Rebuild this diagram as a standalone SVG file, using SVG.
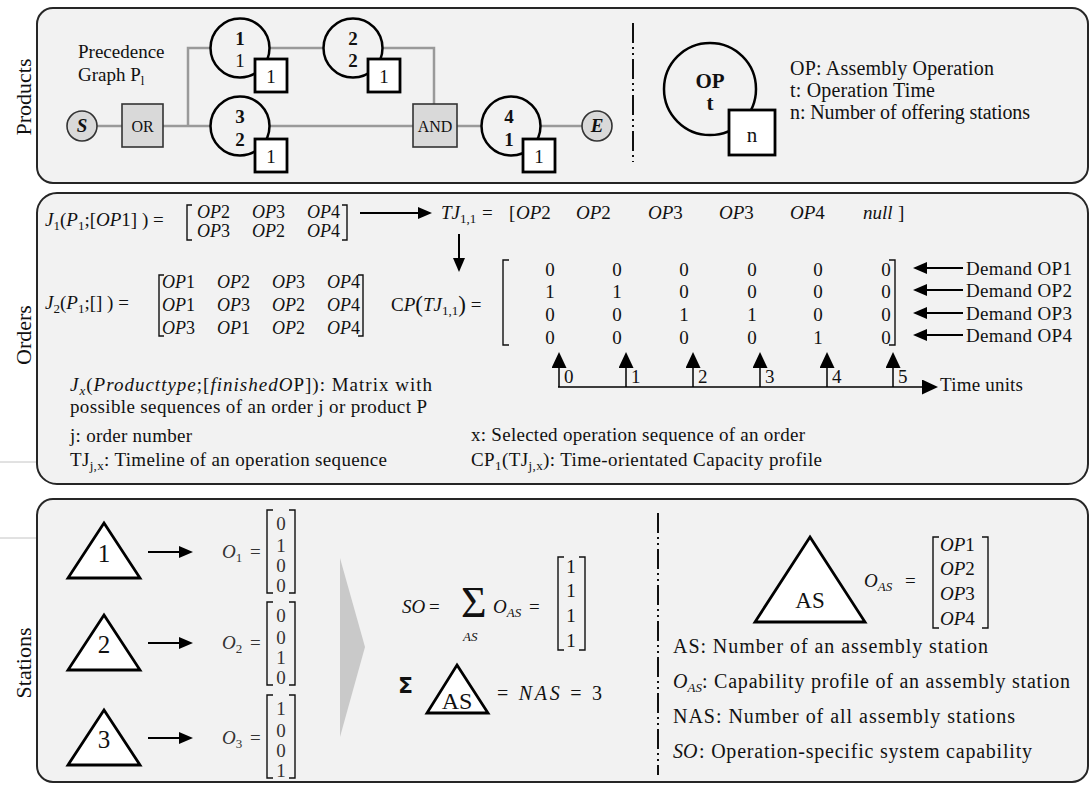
<svg xmlns="http://www.w3.org/2000/svg" width="1091" height="787" viewBox="0 0 1091 787" font-size="19">
<defs>
<style>
text{font-family:"Liberation Serif","Times New Roman",serif;fill:#111}
.i{font-style:italic}
.b{font-weight:bold}
.u{font-style:normal}
.c{text-anchor:middle}
.panel{fill:#f2f2f2;stroke:#262626;stroke-width:2}
.lbl{font-size:22px;text-anchor:middle}
.edge{fill:none;stroke:#9a9a9a;stroke-width:2.5}
.opc{fill:#f2f2f2;stroke:#000;stroke-width:2.5}
.box{fill:#fff;stroke:#000;stroke-width:2.8}
.gate{fill:#d9d9d9;stroke:#333;stroke-width:1.6}
.arr{fill:none;stroke:#000;stroke-width:2}
.arrT{fill:none;stroke:#000;stroke-width:1.5}
.br{fill:none;stroke:#111;stroke-width:1.4}
.dd{fill:none;stroke:#111;stroke-width:2;stroke-dasharray:20 4 2 4 2 4}
.tri{fill:#fff;stroke:#000;stroke-width:2.8}
.g{fill:#333}
.thin{stroke:#c4c4c4;stroke-width:1}
.sans{font-family:"DejaVu Sans",sans-serif;font-weight:bold}
</style>
<marker id="ah" viewBox="0 0 14 12" refX="10" refY="6" markerWidth="14" markerHeight="12" orient="auto" markerUnits="userSpaceOnUse"><path d="M0,0 L14,6 L0,12 Z" fill="#000"/></marker>
<marker id="ahL" viewBox="0 0 16 15" refX="12" refY="7.5" markerWidth="16" markerHeight="15" orient="auto" markerUnits="userSpaceOnUse"><path d="M0,0 L16,7.5 L0,15 Z" fill="#000"/></marker>
</defs>
<rect width="1091" height="787" fill="#fff"/>
<line class="thin" x1="0" y1="462" x2="37" y2="462"/>
<line class="thin" x1="0" y1="538" x2="37" y2="538"/>

<!-- Panels -->
<g id="panel-products">
<rect class="panel" x="37" y="8" width="1051" height="175" rx="16"/>
<text class="lbl" x="31" y="97" transform="rotate(-90 31 97)">Products</text>
</g>
<g id="panel-orders">
<rect class="panel" x="37" y="193" width="1051" height="291" rx="20"/>
<text class="lbl" x="31" y="335" transform="rotate(-90 31 335)">Orders</text>
</g>
<g id="panel-stations">
<rect class="panel" x="37" y="499" width="1051" height="283" rx="16"/>
<text class="lbl" x="31" y="663" transform="rotate(-90 31 663)">Stations</text>
</g>

<!-- Connectors -->
<g id="connectors">
<path class="edge" d="M97,126 H122"/>
<path class="edge" d="M163,126 H210"/>
<path class="edge" d="M188,126 V48 H211"/>
<path class="edge" d="M269,48 H324"/>
<path class="edge" d="M382,48 H434 V104"/>
<path class="edge" d="M269,126 H413"/>
<path class="edge" d="M457,126 H482"/>
<path class="edge" d="M540,126 H582"/>
<line class="arr" x1="360" y1="213" x2="428" y2="213" marker-end="url(#ah)"/>
<line class="arr" x1="459" y1="234" x2="459" y2="268" marker-end="url(#ah)"/>
<line class="arr" x1="963" y1="268" x2="917" y2="268" marker-end="url(#ah)"/>
<line class="arr" x1="963" y1="290" x2="917" y2="290" marker-end="url(#ah)"/>
<line class="arr" x1="963" y1="313" x2="917" y2="313" marker-end="url(#ah)"/>
<line class="arr" x1="963" y1="335" x2="917" y2="335" marker-end="url(#ah)"/>
<line class="arrT" x1="559" y1="387" x2="559" y2="356" marker-end="url(#ahL)"/>
<line class="arrT" x1="626" y1="387" x2="626" y2="356" marker-end="url(#ahL)"/>
<line class="arrT" x1="693" y1="387" x2="693" y2="356" marker-end="url(#ahL)"/>
<line class="arrT" x1="760" y1="387" x2="760" y2="356" marker-end="url(#ahL)"/>
<line class="arrT" x1="827" y1="387" x2="827" y2="356" marker-end="url(#ahL)"/>
<line class="arrT" x1="893" y1="387" x2="893" y2="356" marker-end="url(#ahL)"/>
<line class="arrT" x1="558" y1="387" x2="934" y2="387" marker-end="url(#ahL)"/>
<line class="arr" x1="148" y1="552" x2="189" y2="552" marker-end="url(#ah)"/>
<line class="arr" x1="148" y1="643" x2="189" y2="643" marker-end="url(#ah)"/>
<line class="arr" x1="148" y1="738" x2="189" y2="738" marker-end="url(#ah)"/>
<line class="dd" x1="633" y1="23" x2="633" y2="162"/>
<line class="dd" x1="658" y1="513" x2="658" y2="775"/>
</g>

<!-- Products nodes -->
<g id="title-precedence">
<text x="78" y="58">Precedence</text>
<text x="78" y="81">Graph P<tspan font-size="13" dy="4">l</tspan></text>
</g>
<g id="node-S">
<circle cx="82" cy="126" r="15" class="gate"/>
<text class="c b i" x="82" y="132">S</text>
</g>
<g id="node-OR">
<rect class="gate" x="122" y="104" width="41" height="43"/>
<text class="c" x="142.5" y="132" font-size="16">OR</text>
</g>
<g id="node-op1">
<circle class="opc" cx="240" cy="48" r="29.5"/>
<rect class="box" x="255" y="59" width="32" height="33"/>
<text class="c b" x="240" y="45">1</text>
<text class="c" x="240" y="67">1</text>
<text class="c" x="271" y="83">1</text>
</g>
<g id="node-op2">
<circle class="opc" cx="353" cy="48" r="29.5"/>
<rect class="box" x="368" y="59" width="32" height="33"/>
<text class="c b" x="353" y="45">2</text>
<text class="c b" x="353" y="67">2</text>
<text class="c" x="384" y="83">1</text>
</g>
<g id="node-op3">
<circle class="opc" cx="240" cy="126" r="29.5"/>
<rect class="box" x="255" y="139" width="32" height="33"/>
<text class="c b" x="240" y="123">3</text>
<text class="c b" x="240" y="146">2</text>
<text class="c" x="271" y="163">1</text>
</g>
<g id="node-AND">
<rect class="gate" x="413" y="104" width="44" height="43"/>
<text class="c" x="435" y="132" font-size="16">AND</text>
</g>
<g id="node-op4">
<circle class="opc" cx="511" cy="126" r="29.5"/>
<rect class="box" x="523" y="139" width="32" height="33"/>
<text class="c b" x="509" y="123">4</text>
<text class="c b" x="509" y="146">1</text>
<text class="c" x="539" y="163">1</text>
</g>
<g id="node-E">
<circle cx="597" cy="126" r="15" class="gate"/>
<text class="c b i" x="597" y="132">E</text>
</g>
<g id="legend-op">
<circle class="opc" cx="710" cy="89" r="46"/>
<rect class="box" x="729" y="110" width="46" height="45"/>
<text class="c b" x="710" y="88" font-size="21">OP</text>
<text class="c b" x="710" y="110" font-size="21">t</text>
<text class="c" x="752" y="142" font-size="21">n</text>
<text x="790" y="75" font-size="20" textLength="204">OP: Assembly Operation</text>
<text x="790" y="97" font-size="20" textLength="145">t: Operation Time</text>
<text x="790" y="119" font-size="20" textLength="240">n: Number of offering stations</text>
</g>

<!-- Orders -->
<g id="formula-J1">
<text class="i" x="45" y="226">J<tspan class="u" font-size="13" dy="4">1</tspan><tspan class="u" dy="-4">(</tspan>P<tspan class="u" font-size="13" dy="4">1</tspan><tspan class="u" dy="-4">;[</tspan>OP<tspan class="u">1</tspan><tspan class="u">] ) =</tspan></text>
<path class="br" d="M192,205 H187 V240 H192 M342,205 H347 V240 H342"/>
<text class="i" font-size="18" y="218"><tspan x="197">OP</tspan><tspan class="u">2</tspan><tspan x="252">OP</tspan><tspan class="u">3</tspan><tspan x="307">OP</tspan><tspan class="u">4</tspan></text>
<text class="i" font-size="18" y="237"><tspan x="197">OP</tspan><tspan class="u">3</tspan><tspan x="252">OP</tspan><tspan class="u">2</tspan><tspan x="307">OP</tspan><tspan class="u">4</tspan></text>
</g>
<g id="formula-TJ">
<text class="i" x="441" y="219">TJ<tspan class="u" font-size="13" dy="4">1,1</tspan><tspan class="u" dy="-4" x="482">=</tspan></text>
<text class="i" y="219"><tspan class="u" x="509">[</tspan><tspan x="516">OP</tspan><tspan class="u">2</tspan><tspan x="576">OP</tspan><tspan class="u">2</tspan><tspan x="648">OP</tspan><tspan class="u">3</tspan><tspan x="719">OP</tspan><tspan class="u">3</tspan><tspan x="790">OP</tspan><tspan class="u">4</tspan><tspan x="863">null</tspan><tspan class="u" x="898">]</tspan></text>
</g>
<g id="formula-J2">
<text class="i" x="45" y="309">J<tspan class="u" font-size="13" dy="4">2</tspan><tspan class="u" dy="-4">(</tspan>P<tspan class="u" font-size="13" dy="4">1</tspan><tspan class="u" dy="-4">;[] ) =</tspan></text>
<path class="br" d="M164,275 H159 V336 H164 M358,275 H363 V336 H358"/>
<text class="i" font-size="18" y="288"><tspan x="162">OP</tspan><tspan class="u">1</tspan><tspan x="217">OP</tspan><tspan class="u">2</tspan><tspan x="272">OP</tspan><tspan class="u">3</tspan><tspan x="327">OP</tspan><tspan class="u">4</tspan></text>
<text class="i" font-size="18" y="311"><tspan x="162">OP</tspan><tspan class="u">1</tspan><tspan x="217">OP</tspan><tspan class="u">3</tspan><tspan x="272">OP</tspan><tspan class="u">2</tspan><tspan x="327">OP</tspan><tspan class="u">4</tspan></text>
<text class="i" font-size="18" y="334"><tspan x="162">OP</tspan><tspan class="u">3</tspan><tspan x="217">OP</tspan><tspan class="u">1</tspan><tspan x="272">OP</tspan><tspan class="u">2</tspan><tspan x="327">OP</tspan><tspan class="u">4</tspan></text>
</g>
<g id="formula-CP">
<text x="391" y="311">C<tspan class="i">P</tspan><tspan font-size="23" dy="1">(</tspan><tspan class="i" dy="-1">TJ</tspan><tspan font-size="13" dy="4">1,1</tspan><tspan font-size="23" dy="-3">)</tspan><tspan dy="-1"> =</tspan></text>
<path class="br" d="M509,260 H503 V345 H509 M889,260 H895 V345 H889"/>
<text class="c" y="276"><tspan x="550">0</tspan><tspan x="617">0</tspan><tspan x="684">0</tspan><tspan x="752">0</tspan><tspan x="818">0</tspan><tspan x="886">0</tspan></text>
<text class="c" y="298"><tspan x="550">1</tspan><tspan x="617">1</tspan><tspan x="684">0</tspan><tspan x="752">0</tspan><tspan x="818">0</tspan><tspan x="886">0</tspan></text>
<text class="c" y="321"><tspan x="550">0</tspan><tspan x="617">0</tspan><tspan x="684">1</tspan><tspan x="752">1</tspan><tspan x="818">0</tspan><tspan x="886">0</tspan></text>
<text class="c" y="344"><tspan x="550">0</tspan><tspan x="617">0</tspan><tspan x="684">0</tspan><tspan x="752">0</tspan><tspan x="818">1</tspan><tspan x="886">0</tspan></text>
<text x="966" y="275" textLength="106">Demand OP1</text>
<text x="966" y="297" textLength="106">Demand OP2</text>
<text x="966" y="320" textLength="106">Demand OP3</text>
<text x="966" y="342" textLength="106">Demand OP4</text>
</g>
<g id="time-axis">
<text x="564" y="383">0</text>
<text x="631" y="383">1</text>
<text x="698" y="383">2</text>
<text x="765" y="383">3</text>
<text x="832" y="383">4</text>
<text x="898" y="383">5</text>
<text x="940" y="391" textLength="83">Time units</text>
</g>
<g id="legend-orders">
<text x="70" y="391" textLength="362"><tspan class="i">J</tspan><tspan class="i" font-size="13" dy="4">x</tspan><tspan dy="-4">(</tspan><tspan class="i">Producttype</tspan>;[<tspan class="i">finishedO</tspan>P]): Matrix with</text>
<text x="70" y="413" textLength="357">possible sequences of an order j or product P</text>
<text x="70" y="442" textLength="122">j: order number</text>
<text x="70" y="466" textLength="317">TJ<tspan font-size="13" dy="4">j,x</tspan><tspan dy="-4">: Timeline of an operation sequence</tspan></text>
<text x="471" y="441" textLength="334">x: Selected operation sequence of an order</text>
<text x="471" y="466" textLength="351">CP<tspan font-size="13" dy="4">1</tspan><tspan dy="-4">(TJ</tspan><tspan font-size="13" dy="4">j,x</tspan><tspan dy="-4">): Time-orientated Capacity profile</tspan></text>
</g>

<!-- Stations -->
<g id="station-1">
<polygon class="tri" points="104,523 140,578 68,578"/>
<text class="c" x="104" y="562" font-size="25">1</text>
<text class="i g" x="222" y="558">O<tspan class="u" font-size="13" dy="4">1</tspan><tspan class="u" dy="-4" x="250">=</tspan></text>
<path class="br" d="M273,510 H267 V593 H273 M289,510 H295 V593 H289"/>
<text class="c g"><tspan x="281" y="530">0</tspan><tspan x="281" y="552">1</tspan><tspan x="281" y="572">0</tspan><tspan x="281" y="592">0</tspan></text>
</g>
<g id="station-2">
<polygon class="tri" points="104,615 140,670 68,670"/>
<text class="c" x="104" y="653" font-size="25">2</text>
<text class="i g" x="222" y="649">O<tspan class="u" font-size="13" dy="4">2</tspan><tspan class="u" dy="-4" x="250">=</tspan></text>
<path class="br" d="M273,602 H267 V685 H273 M289,602 H295 V685 H289"/>
<text class="c g"><tspan x="281" y="622">0</tspan><tspan x="281" y="644">0</tspan><tspan x="281" y="664">1</tspan><tspan x="281" y="684">0</tspan></text>
</g>
<g id="station-3">
<polygon class="tri" points="104,710 140,765 68,765"/>
<text class="c" x="104" y="748" font-size="25">3</text>
<text class="i g" x="222" y="744">O<tspan class="u" font-size="13" dy="4">3</tspan><tspan class="u" dy="-4" x="250">=</tspan></text>
<path class="br" d="M273,695 H267 V778 H273 M289,695 H295 V778 H289"/>
<text class="c g"><tspan x="281" y="715">1</tspan><tspan x="281" y="737">0</tspan><tspan x="281" y="757">0</tspan><tspan x="281" y="777">1</tspan></text>
</g>
<g id="chevron">
<polygon points="340,558 365,647 340,737" fill="#c9c9c9"/>
</g>
<g id="formula-SO">
<text class="i" x="402" y="613">SO<tspan class="u" x="429">=</tspan></text>
<text x="461" y="617" font-size="44">Σ</text>
<text class="i" x="463" y="641" font-size="13">AS</text>
<text class="i" x="493" y="613">O<tspan font-size="13" dy="4">AS</tspan><tspan class="u" dy="-4" x="529">=</tspan></text>
<path class="br" d="M564,557 H558 V650 H564 M579,557 H585 V650 H579"/>
<text class="c"><tspan x="571" y="573">1</tspan><tspan x="571" y="597">1</tspan><tspan x="571" y="622">1</tspan><tspan x="571" y="647">1</tspan></text>
</g>
<g id="formula-NAS">
<text class="sans" x="398" y="693" font-size="22">Σ</text>
<polygon class="tri" points="457,665 488,713 427,713"/>
<text class="c" x="457" y="709" font-size="24">AS</text>
<text x="497" y="700" font-size="20" textLength="105">= <tspan class="i">NAS</tspan> = 3</text>
</g>
<g id="legend-as">
<polygon class="tri" points="810,537 865,622 755,622"/>
<text class="c" x="810" y="608" font-size="23">AS</text>
<text class="i" x="864" y="587">O<tspan font-size="13" dy="4">AS</tspan><tspan class="u" dy="-4" x="905">=</tspan></text>
<path class="br" d="M939,537 H933 V628 H939 M982,537 H988 V628 H982"/>
<text class="i"><tspan x="940" y="551">OP</tspan><tspan class="u">1</tspan><tspan x="940" y="575">OP</tspan><tspan class="u">2</tspan><tspan x="940" y="600">OP</tspan><tspan class="u">3</tspan><tspan x="940" y="625">OP</tspan><tspan class="u">4</tspan></text>
<text x="673" y="653" font-size="20" textLength="315">AS: Number of an assembly  station</text>
<text x="673" y="688" font-size="20"><tspan class="i">O</tspan><tspan class="i" font-size="13" dy="4">AS</tspan><tspan dy="-4" x="702" textLength="368">: Capability profile of an assembly station</tspan></text>
<text x="673" y="723" font-size="20" textLength="342">NAS: Number of all  assembly stations</text>
<text x="673" y="758" font-size="20"><tspan class="i">SO</tspan><tspan x="699" textLength="333">: Operation-specific system capability</tspan></text>
</g>
</svg>
